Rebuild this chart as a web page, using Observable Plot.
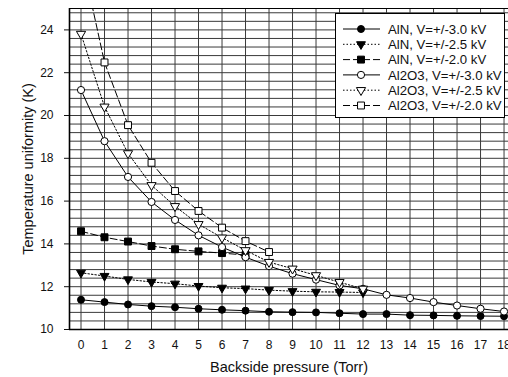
<!DOCTYPE html>
<html>
<head>
<meta charset="utf-8">
<script src="https://cdn.jsdelivr.net/npm/d3@7"></script>
<script src="https://cdn.jsdelivr.net/npm/@observablehq/plot@0.6"></script>
<style>
  html, body { margin: 0; padding: 0; background: #fff; }
  #wrap { position: relative; width: 508px; height: 377px; overflow: hidden; font-family: "Liberation Sans", Arial, sans-serif; }
  #legend { position: absolute; left: 335px; top: 13px; }
</style>
</head>
<body>
<div id="wrap"><div id="chart"></div><div id="legend"></div></div>
<script>
// Backside pressure (Torr)
const pressure = [0,1,2,3,4,5,6,7,8,9,10,11,12,13,14,15,16,17,18];

// Temperature uniformity (K)
const alN30 = [11.39,11.28,11.17,11.09,11.04,10.97,10.92,10.88,10.83,10.81,10.80,10.76,10.72,10.72,10.67,10.66,10.64,10.63,10.62];
const alN25 = [12.65,12.50,12.34,12.22,12.14,12.03,11.95,11.91,11.84,11.79,11.76,11.75,11.73];
const alN20 = [14.59,14.31,14.11,13.90,13.75,13.65,13.57,13.48];
const al2o330 = [21.19,18.80,17.13,15.96,15.12,14.40,13.85,13.38,12.96,12.61,12.33,12.06,11.90,11.62,11.47,11.28,11.12,10.97,10.84];
const al2o325 = [23.81,20.41,18.23,16.74,15.76,14.92,14.29,13.70,13.15,12.84,12.53,12.21,11.90];
const al2o320 = [27.5,22.48,19.55,17.79,16.47,15.54,14.76,14.13,13.62];

const seriesNames = [
  "AlN, V=+/-3.0 kV",
  "AlN, V=+/-2.5 kV",
  "AlN, V=+/-2.0 kV",
  "Al2O3, V=+/-3.0 kV",
  "Al2O3, V=+/-2.5 kV",
  "Al2O3, V=+/-2.0 kV"
];
const seriesValues = [alN30, alN25, alN20, al2o330, al2o325, al2o320];

const yTicks = [10,12,14,16,18,20,22,24];

// styles per series
const styles = [
  {dash: null, symbol: "circle", fill: "black", r: 3.5, rotate: 0},
  {dash: "1.5,2", symbol: "triangle", fill: "black", r: 3.3, rotate: 180},
  {dash: "7,3", symbol: "square", fill: "black", r: 3.9, rotate: 0},
  {dash: null, symbol: "circle", fill: "white", r: 3.6, rotate: 0},
  {dash: "1.5,2", symbol: "triangle", fill: "white", r: 3.4, rotate: 180},
  {dash: "7,3", symbol: "square", fill: "white", r: 3.9, rotate: 0}
];

const data = seriesValues.map((vals, i) => vals.map((v, j) => ({x: pressure[j], y: v, s: seriesNames[i]})));

const xDomain = [-0.49, 18.19];
const yDomain = [10, 25];
const gridX = d3.range(0, 19);
const gridY = d3.range(1, 38).map(k => +(10 + 0.4 * k).toFixed(1)).filter(v => v < 25);

const marks = [
  Plot.ruleX(gridX, {stroke: "#3a3a3a", strokeWidth: 1}),
  Plot.ruleY(gridY, {stroke: "#3a3a3a", strokeWidth: 1}),
];
data.forEach((d, i) => {
  const st = styles[i];
  marks.push(Plot.line(d, {x: "x", y: "y", stroke: "black", strokeWidth: 1, strokeDasharray: st.dash, clip: true}));
});
data.forEach((d, i) => {
  const st = styles[i];
  marks.push(Plot.dot(d, {x: "x", y: "y", symbol: () => st.symbol, r: st.r, fill: st.fill, stroke: "black", strokeWidth: 1, rotate: st.rotate, clip: true}));
});
marks.push(
  Plot.ruleY([25], {stroke: "black", strokeWidth: 1}),
  Plot.ruleY([10], {stroke: "black", strokeWidth: 1.6}),
  Plot.ruleX([xDomain[0]], {stroke: "black", strokeWidth: 1.6}),
  Plot.axisY(yTicks, {tickSize: 5, tickPadding: 11, fontSize: 12, label: null}),
  Plot.axisY({label: "Temperature uniformity (K)", ticks: [], tickSize: 0, fontSize: 14.5, labelAnchor: "center", labelOffset: 47, labelArrow: "none"}),
  Plot.axisX(gridX, {tickSize: 0, tickPadding: 11, fontSize: 12, label: null}),
  Plot.axisX({label: "Backside pressure (Torr)", ticks: [], tickSize: 0, fontSize: 14.5, labelAnchor: "center", labelOffset: 42, labelArrow: "none"})
);

const chart = Plot.plot({
  width: 508,
  height: 377,
  marginLeft: 69,
  marginRight: 0,
  marginTop: 8,
  marginBottom: 48,
  style: {fontFamily: "'Liberation Sans', Arial, sans-serif", fontSize: "12px", color: "#111", background: "#fff"},
  x: {domain: xDomain},
  y: {domain: yDomain},
  marks
});
document.getElementById("chart").appendChild(chart);

// Legend
const lw = 170, lh = 105;
const lsvg = d3.select("#legend").append("svg").attr("width", lw).attr("height", lh)
  .style("font-family", "'Liberation Sans', Arial, sans-serif");
lsvg.append("rect").attr("x", 0.5).attr("y", 0.5).attr("width", lw - 1).attr("height", lh - 1)
  .attr("fill", "white").attr("stroke", "black");
const symMap = {circle: d3.symbolCircle, triangle: d3.symbolTriangle, square: d3.symbolSquare};
seriesNames.forEach((name, i) => {
  const st = styles[i];
  const yy = 16 + i * 15.3;
  const g = lsvg.append("g");
  g.append("line").attr("x1", 8).attr("x2", 45).attr("y1", yy).attr("y2", yy)
    .attr("stroke", "black").attr("stroke-dasharray", st.dash);
  g.append("path").attr("d", d3.symbol(symMap[st.symbol], Math.PI * st.r * st.r)())
    .attr("transform", `translate(26,${yy}) rotate(${st.rotate})`)
    .attr("fill", st.fill).attr("stroke", "black");
  g.append("text").attr("x", 53).attr("y", yy).attr("dy", "0.35em")
    .attr("font-size", "13.2px").attr("fill", "#111").text(name);
});
</script>
</body>
</html>
